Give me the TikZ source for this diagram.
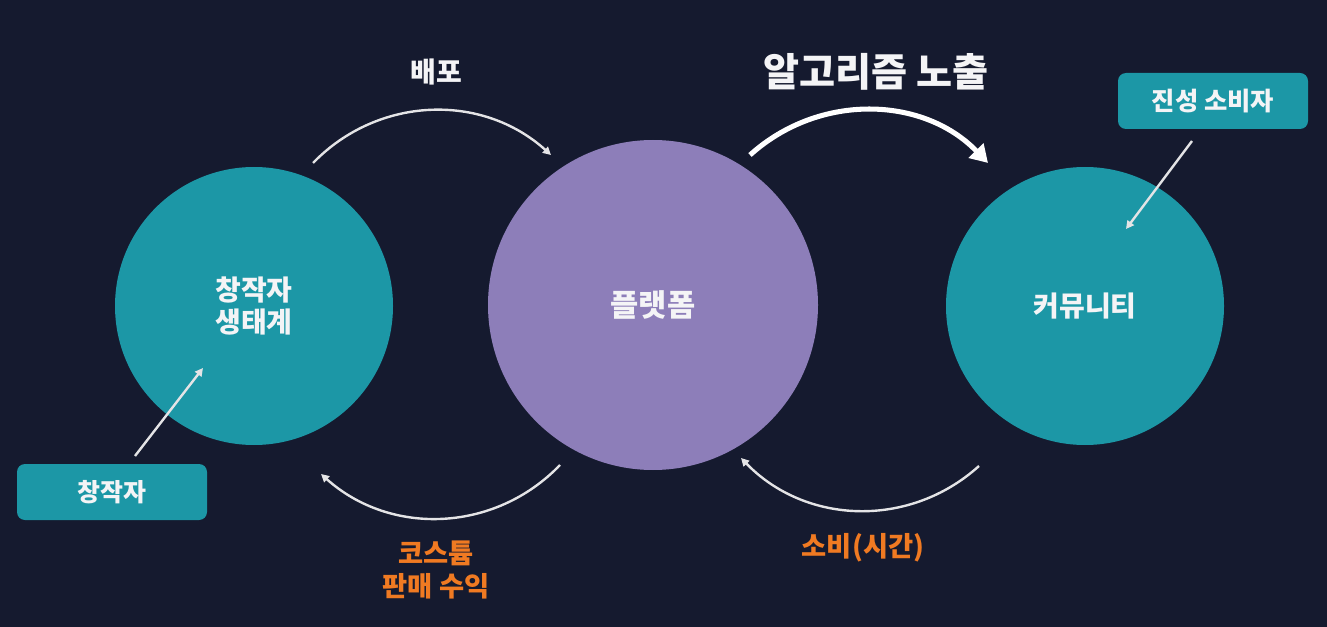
\documentclass[tikz,border=0pt]{standalone}
\usepackage{fontspec}
\setmainfont{Noto Sans CJK KR}
\usetikzlibrary{arrows.meta}
\definecolor{bgc}{HTML}{151A2F}
\definecolor{tealc}{HTML}{1C97A6}
\definecolor{purplec}{HTML}{8D7EB9}
\definecolor{orangec}{HTML}{F07A22}
\definecolor{arrowc}{HTML}{E4E4E6}
\definecolor{textc}{HTML}{F4F4F6}
\tikzset{
  bigcircle/.style={circle, fill=#1, draw=none, inner sep=0pt, text=textc, align=center, font=\bfseries\fontsize{21}{24}\selectfont},
  labelbox/.style={rectangle, rounded corners=6pt, fill=tealc, draw=none, minimum width=142.5pt, minimum height=42pt, inner sep=0pt, text=textc},
  thinarrow/.style={draw=arrowc, line width=1.8pt, -{Triangle[length=6pt,width=6pt]}},
  thickarrow/.style={draw=white, line width=3.8pt, -{Triangle[length=13pt,width=15pt]}},
  whitelabel/.style={text=textc, font=\bfseries\fontsize{21}{24}\selectfont},
  orangelabel/.style={text=orangec, align=center, font=\bfseries\fontsize{20.5}{25}\selectfont},
}
\begin{document}
\begin{tikzpicture}[x=0.75pt,y=-0.75pt]
\fill[bgc] (0,0) rectangle (1327,627);
\useasboundingbox (0,0) rectangle (1327,627);

% circles
\node[bigcircle=tealc, minimum size=208.5pt] (creator) at (254,306) {창작자\\생태계};
\node[bigcircle=purplec, minimum size=247.5pt, font=\bfseries\fontsize{23}{26}\selectfont] (platform) at (653,305) {플랫폼};
\node[bigcircle=tealc, minimum size=208.5pt] (community) at (1085,306) {커뮤니티};

% boxes
\node[labelbox, font=\bfseries\fontsize{19}{22}\selectfont] (consumer) at (1213,101) {진성 소비자};
\node[labelbox, font=\bfseries\fontsize{18.7}{22}\selectfont] (maker) at (112,492) {창작자};

% arc end points
\coordinate (a1s) at (313,163);
\coordinate (a1e) at (551,155);
\coordinate (a2s) at (750,155);
\coordinate (a2e) at (988,163);
\coordinate (a3s) at (979,466);
\coordinate (a3e) at (741,458);
\coordinate (a4s) at (560,465);
\coordinate (a4e) at (321,474);
\coordinate (d1s) at (1192,141);
\coordinate (d1e) at (1126,229);
\coordinate (d2s) at (135,456);
\coordinate (d2e) at (203,368);

% arcs
\draw[thinarrow] (a1s) to[bend left=44] (a1e);
\draw[thickarrow] (a2s) to[bend left=44] (a2e);
\draw[thinarrow] (a3s) to[bend left=44] (a3e);
\draw[thinarrow] (a4s) to[bend left=44] (a4e);
\draw[thinarrow] (d1s) -- (d1e);
\draw[thinarrow] (d2s) -- (d2e);

% labels
\node[whitelabel] (deploy) at (436,72) {배포};
\node[text=textc, font=\bfseries\fontsize{29.4}{32}\selectfont] (algo) at (876,72) {알고리즘 노출};
\node[orangelabel] (costume) at (436,570) {코스튬\\판매 수익};
\node[orangelabel] (consume) at (863,548) {소비(시간)};
\end{tikzpicture}
\end{document}
